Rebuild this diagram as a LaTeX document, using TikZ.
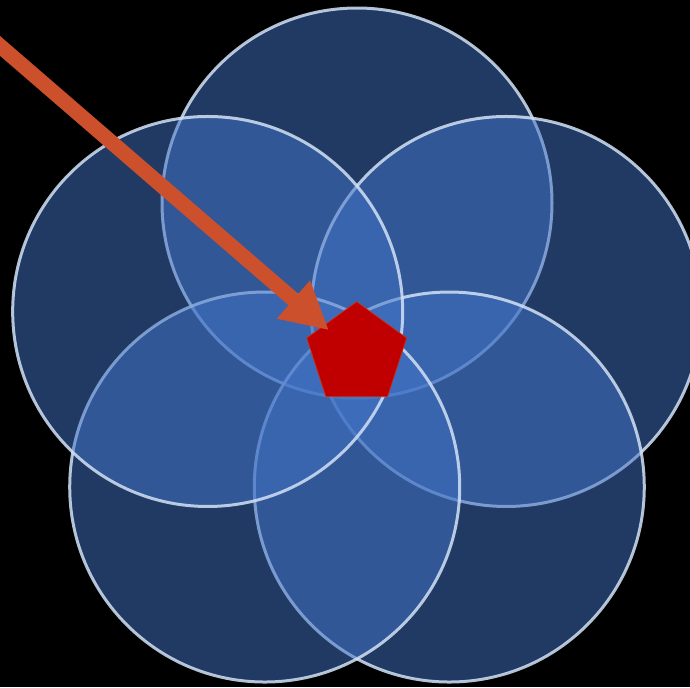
\documentclass[tikz,border=0pt]{standalone}
\usepackage{tikz}
\usetikzlibrary{shapes.geometric}
\usetikzlibrary{arrows.meta}
\usetikzlibrary{calc}

\definecolor{petalblue}{RGB}{66,116,200}
\definecolor{petalrim}{RGB}{210,225,245}
\definecolor{arrowred}{RGB}{205,80,45}
\definecolor{pentared}{RGB}{192,0,0}

\tikzset{
  petal/.style={fill=petalblue, fill opacity=0.5, draw=petalrim, draw opacity=0.85, line width=0.06cm},
  pointer/.style={draw=arrowred, line width=0.3cm, -{Triangle[length=0.94cm,width=0.94cm]}}
}

\begin{document}
\begin{tikzpicture}[x=0.02cm, y=-0.02cm]
    \clip (0,0) rectangle (690,687);
    \fill[black] (0,0) rectangle (690,687);
    \coordinate (mid) at (357,360);
    \foreach \a in {-90,-18,54,126,198} {
        \draw[petal] (mid) ++(\a:157) circle[radius=195];
    }
    \node[regular polygon, regular polygon sides=5, minimum size=2.1cm, inner sep=0pt, outer sep=0pt, fill=pentared, draw=arrowred!60!pentared, line width=0.4pt] (penta) at (356.7,354.2) {};
    \coordinate (tail) at (-20,28.6);
    \draw[pointer, shorten >=-0.14cm] (tail) -- (penta);
\end{tikzpicture}
\end{document}
